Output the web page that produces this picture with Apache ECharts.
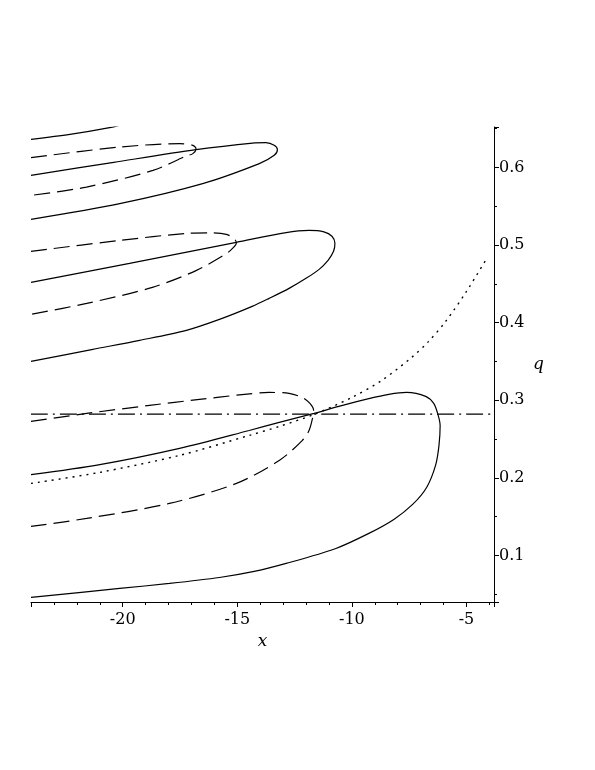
<!DOCTYPE html>
<html><head><meta charset="utf-8">
<script src="https://cdn.jsdelivr.net/npm/echarts/dist/echarts.min.js"></script>
<style>html,body{margin:0;padding:0;background:#fff}#c{width:595px;height:770px}</style>
</head><body><div id="c"></div>
<script>
// Bottom solid loop
var A_x = [-24, -21.0, -17.52, -14.48, -13.17, -11.65, -10.57, -9.26, -8.39, -7.61, -6.78, -6.43, -6.26, -6.15, -6.2, -6.35, -6.74, -7.35, -8.17, -9.26, -10.70, -12.87, -14.26, -15.78, -17.96, -20.13, -24];
var A_q = [0.204, 0.217, 0.238, 0.261, 0.2714, 0.283, 0.292, 0.302, 0.3075, 0.310, 0.305, 0.296, 0.283, 0.2675, 0.2418, 0.216, 0.1876, 0.1657, 0.1464, 0.1284, 0.109, 0.0897, 0.0794, 0.0716, 0.0639, 0.0575, 0.0459];
// Bottom dashed loop
var B_x = [-24, -21.57, -18.83, -16.65, -14.91, -13.61, -12.74, -12.17, -11.83, -11.67, -11.72, -11.87, -12.17, -13.17, -15.04, -17.96, -21.57, -24];
var B_q = [0.2727, 0.283, 0.2933, 0.301, 0.3068, 0.310, 0.3088, 0.3036, 0.2959, 0.2868, 0.2765, 0.261, 0.248, 0.2224, 0.1928, 0.167, 0.1477, 0.1374];
// Dotted curve
var D_x = [-24, -21.0, -17.52, -14.48, -13.17, -11.65, -10.0, -8.70, -7.39, -6.65, -5.91, -5.0, -4.17];
var D_q = [0.1928, 0.207, 0.2289, 0.2546, 0.2662, 0.2817, 0.3036, 0.3255, 0.3552, 0.3758, 0.4015, 0.4402, 0.480];
// Dash-dot horizontal
var H_x = [-24, -3.8];
var H_q = [0.282, 0.282];
// Middle dashed loop
var C_x = [-24, -20.13, -17.22, -16.22, -15.48, -15.13, -15.04, -15.22, -15.48, -16.78, -18.70, -21.57, -24];
var C_q = [0.4918, 0.5059, 0.5149, 0.5156, 0.5137, 0.5081, 0.5025, 0.4952, 0.4888, 0.4673, 0.4454, 0.4247, 0.4106];
// Middle solid loop
var M_x = [-24, -19.70, -15.04, -12.87, -11.87, -11.22, -10.87, -10.74, -10.80, -11.04, -11.43, -12.0, -12.74, -13.61, -14.35, -15.78, -17.22, -19.26, -21.30, -24];
var M_q = [0.4518, 0.4763, 0.5034, 0.5160, 0.5187, 0.5169, 0.5112, 0.5021, 0.4918, 0.4802, 0.4686, 0.4570, 0.4441, 0.4312, 0.4209, 0.4041, 0.3900, 0.3771, 0.3655, 0.3500];
// Top dashed loop
var F_x = [-24, -20.13, -17.52, -16.94, -16.80, -16.94, -17.23, -18.68, -21.58, -24];
var F_q = [0.6125, 0.6262, 0.6305, 0.6284, 0.6241, 0.6177, 0.6146, 0.5961, 0.5746, 0.5639];
// Top solid loop
var G_x = [-24, -20.39, -16.80, -14.33, -13.75, -13.39, -13.25, -13.39, -14.04, -16.51, -20.13, -24];
var G_q = [0.5897, 0.6065, 0.6228, 0.6313, 0.6318, 0.6284, 0.6228, 0.6155, 0.6048, 0.5790, 0.5532, 0.5330];
// Top-most solid branch (leaves the plot)
var E_x = [-24, -22.3, -20.57, -19.9];
var E_q = [0.636, 0.6424, 0.6511, 0.6560];

// Axis settings
var X_MIN = -24, X_MAX = -3.8;
var Q_MIN = 0.04, Q_MAX = 0.652;

function pairs(xs, qs) { return xs.map(function (x, i) { return [x, qs[i]]; }); }

var FONT = 'DejaVu Serif';
var DASH = [16, 7], DOT = [2, 5], DASHDOT = [17, 5, 2, 5];

function mk(xs, qs, type, w) {
  return {
    type: 'line', data: pairs(xs, qs), showSymbol: false, symbol: 'none',
    smooth: 0.3, clip: true, silent: true,
    lineStyle: { color: '#000', width: w || 1.2, type: type }
  };
}

var chart = echarts.init(document.getElementById('c'), null, { renderer: 'canvas' });
chart.setOption({
  animation: false,
  backgroundColor: '#fff',
  grid: { left: 31, right: 101, top: 127, bottom: 168, containLabel: false },
  xAxis: {
    type: 'value', min: X_MIN, max: X_MAX, position: 'bottom',
    axisLine: { show: true, onZero: false, lineStyle: { color: '#000', width: 1 } },
    axisTick: { show: true, length: 5, lineStyle: { color: '#000' } },
    minorTick: { show: true, splitNumber: 5, length: 3, lineStyle: { color: '#000' } },
    splitLine: { show: false }, minorSplitLine: { show: false },
    axisLabel: { showMinLabel: false, showMaxLabel: false, color: '#000', fontFamily: FONT, fontSize: 16, margin: 10 },
    name: 'x', nameLocation: 'middle', nameGap: 31,
    nameTextStyle: { color: '#000', fontFamily: FONT, fontStyle: 'italic', fontSize: 17 }
  },
  yAxis: {
    type: 'value', min: Q_MIN, max: Q_MAX, position: 'right',
    axisLine: { show: true, onZero: false, lineStyle: { color: '#000', width: 1 } },
    axisTick: { show: true, length: 5, lineStyle: { color: '#000' } },
    minorTick: { show: true, splitNumber: 2, length: 3, lineStyle: { color: '#000' } },
    splitLine: { show: false }, minorSplitLine: { show: false },
    axisLabel: { showMinLabel: false, showMaxLabel: false, color: '#000', fontFamily: FONT, fontSize: 16, margin: 5,
      formatter: function (v) { return v.toFixed(1); } },
    name: 'q', nameLocation: 'middle', nameRotate: 0, nameGap: 39,
    nameTextStyle: { color: '#000', fontFamily: FONT, fontStyle: 'italic', fontSize: 17 }
  },
  series: [
    mk(A_x, A_q, 'solid'),
    mk(B_x, B_q, DASH),
    mk(D_x, D_q, DOT, 1.4),
    mk(H_x, H_q, DASHDOT),
    mk(C_x, C_q, DASH),
    mk(M_x, M_q, 'solid'),
    mk(F_x, F_q, DASH),
    mk(G_x, G_q, 'solid'),
    mk(E_x, E_q, 'solid')
  ]
});
</script></body></html>
